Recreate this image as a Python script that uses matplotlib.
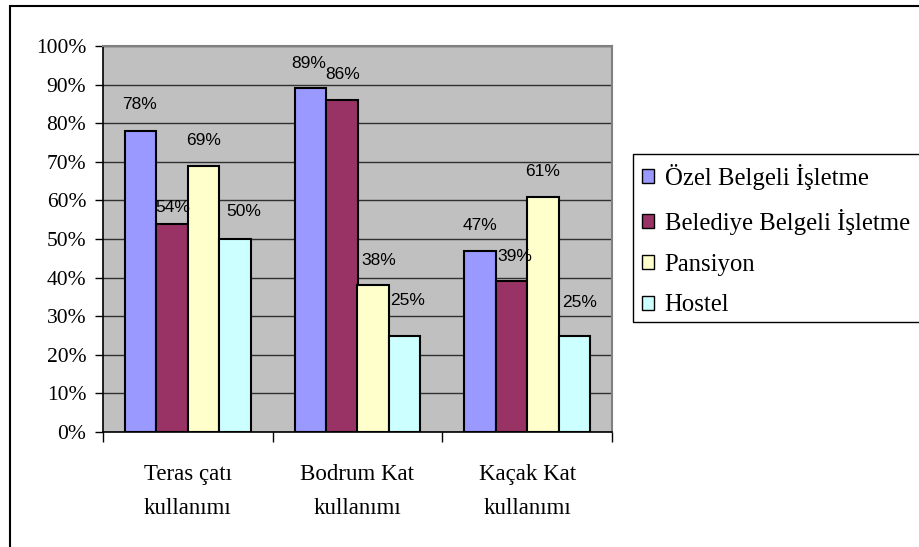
import numpy as np
import matplotlib.pyplot as plt
from matplotlib.patches import Rectangle, Patch
from matplotlib.ticker import PercentFormatter

# Survey results per usage type (percent)
categories = ["Teras çatı\nkullanımı", "Bodrum Kat\nkullanımı", "Kaçak Kat\nkullanımı"]
series_names = ["Özel Belgeli İşletme", "Belediye Belgeli İşletme", "Pansiyon", "Hostel"]
ozel = [78, 89, 47]
belediye = [54, 86, 39]
pansiyon = [69, 38, 61]
hostel = [50, 25, 25]
series_values = [ozel, belediye, pansiyon, hostel]

colors = ["#9999FF", "#993366", "#FFFFCC", "#CCFFFF"]
# label nudges in pixels (dx, dy above the bar top)
label_offsets = [
    [(-1, 26), (-2, 25), (0, 25)],
    [(1, 16), (1, 26), (3, 25)],
    [(0, 25), (5, 25), (0, 25)],
    [(9, 27), (3, 35), (5, 33)],
]

serif = "Liberation Serif"
sans = "Liberation Sans"

fig = plt.figure(figsize=(9.2, 5.47), dpi=100)
W, H = 920, 547
ax = fig.add_axes([103 / W, 1 - 432 / H, (612 - 103) / W, (432 - 46) / H])
ax.set_facecolor("#C0C0C0")

x = np.arange(len(categories))
bar_w = 0.1856
for i, (vals, col) in enumerate(zip(series_values, colors)):
    pos = x + (i - 1.5) * bar_w
    bars = ax.bar(pos, vals, width=bar_w, color=col, edgecolor="black",
                  linewidth=1.5, zorder=3)
    for b, v, (dx, dy) in zip(bars, vals, label_offsets[i]):
        ax.annotate(f"{v}%", (b.get_x() + b.get_width() / 2, v),
                    xytext=(dx, dy), textcoords="offset pixels",
                    ha="center", va="center", fontsize=12.5,
                    family=sans, color="black", zorder=4)

ax.set_xlim(-0.5, 2.5)
ax.set_ylim(0, 100)
ax.set_yticks(np.arange(0, 101, 10))
ax.yaxis.set_major_formatter(PercentFormatter(decimals=0))
ax.grid(axis="y", color="#303030", linewidth=1.0, zorder=1)
ax.set_axisbelow(True)

# group boundaries as major ticks, category names on minor ticks
ax.set_xticks([-0.5, 0.5, 1.5, 2.5])
ax.set_xticklabels([])
ax.set_xticks(x, categories, minor=True)
ax.tick_params(axis="x", which="major", direction="out", length=7, width=1)
ax.tick_params(axis="x", which="minor", length=0, pad=23)
ax.tick_params(axis="y", direction="out", length=6, width=1, pad=6)
for lab in ax.get_xticklabels(minor=True):
    lab.set_fontfamily(serif)
    lab.set_fontsize(16.5)
    lab.set_linespacing(1.8)
for lab in ax.get_yticklabels():
    lab.set_fontfamily(serif)
    lab.set_fontsize(15.5)

for side in ["top", "right"]:
    ax.spines[side].set_color("#808080")
    ax.spines[side].set_linewidth(1.5)
for side in ["left", "bottom"]:
    ax.spines[side].set_color("black")
    ax.spines[side].set_linewidth(1.2)

# outer chart border
fig.patches.append(Rectangle((10 / W, -0.01), 1.0, 1 - 6 / H + 0.01,
                             transform=fig.transFigure, fill=False,
                             edgecolor="black", linewidth=1.5))

# legend box running off the right edge
fig.patches.append(Rectangle((633 / W, 1 - 322 / H), 0.4, (322 - 154) / H,
                             transform=fig.transFigure, fill=True,
                             facecolor="white", edgecolor="black",
                             linewidth=1.0, zorder=2))
handles = [Patch(facecolor=c, edgecolor="black", linewidth=1.0) for c in colors]
leg = fig.legend(handles, series_names, loc="upper left",
                 bbox_to_anchor=(642 / W, 1 - 164 / H), frameon=False,
                 prop={"family": serif, "size": 17.8}, handlelength=0.5,
                 handleheight=0.5, handletextpad=0.42, labelspacing=0.76,
                 borderaxespad=0, borderpad=0)
leg.set_zorder(3)

fig.savefig("out.png", dpi=100)
